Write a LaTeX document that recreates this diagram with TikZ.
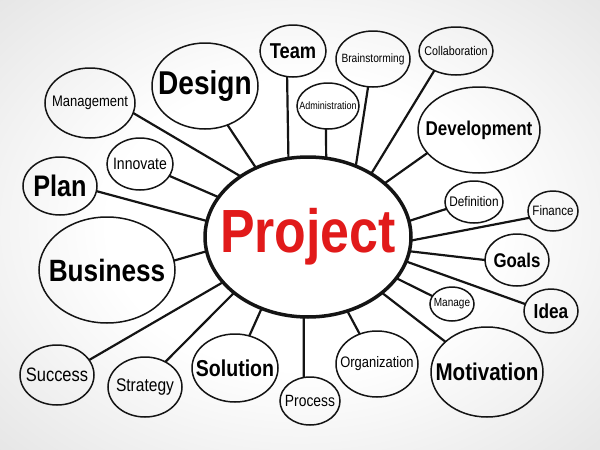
\documentclass[tikz,border=0pt]{standalone}
\usepackage{graphicx}
\usepackage{fontspec}
\setmainfont{Liberation Sans}
\usetikzlibrary{shapes.geometric}
\definecolor{pred}{HTML}{E11A1A}
\newcommand{\fs}[1]{\fontsize{#1}{#1}\selectfont}
% bold label and regular label, horizontally condensed
\newcommand{\lb}[2]{\makebox[0pt][c]{\scalebox{0.85}[1]{\fs{#1}\bfseries #2}}}
\newcommand{\lr}[2]{\makebox[0pt][c]{\scalebox{0.85}[1]{\fs{#1}#2}}}
\pgfdeclareradialshading{bgshade}{\pgfpoint{0bp}{0bp}}{color(0bp)=(white); color(16bp)=(white); color(36bp)=(black!10); color(50bp)=(black!15)}
\begin{document}
\begin{tikzpicture}[x=1pt,y=-1pt,
  bub/.style={ellipse,draw=black!92,line width=1.5pt,inner sep=0pt,outer sep=0pt},
  link/.style={line width=2.2pt,draw=black!92}]
\useasboundingbox (0,0) rectangle (600,450);
\shade[shading=bgshade] (0,0) rectangle (600,450);

\node[bub,line width=3.5pt,minimum width=206pt,minimum height=160pt] (c) at (308,237) {\color{pred}\lb{61}{Project}};

\node[bub,minimum width=106pt,minimum height=86pt] (design) at (205,86) {\lb{33}{Design}};
\node[bub,minimum width=66pt,minimum height=52pt] (team) at (293,51) {\lb{21.5}{Team}};
\node[bub,minimum width=90pt,minimum height=70pt] (mgmt) at (90,103) {\lr{15.3}{Management}};
\node[bub,minimum width=66pt,minimum height=52pt] (innov) at (140,164) {\lr{16.5}{Innovate}};
\node[bub,minimum width=74pt,minimum height=58pt] (plan) at (60,186) {\lb{29.7}{Plan}};
\node[bub,minimum width=136pt,minimum height=106pt] (bus) at (107,270) {\lb{30.8}{Business}};
\node[bub,minimum width=74pt,minimum height=60pt] (succ) at (57,375) {\lr{19.4}{Success}};
\node[bub,minimum width=74pt,minimum height=60pt] (strat) at (145,387) {\lr{18.3}{Strategy}};
\node[bub,minimum width=86pt,minimum height=68pt] (sol) at (235,368) {\lb{23}{Solution}};
\node[bub,minimum width=60pt,minimum height=48pt] (proc) at (310,401) {\lr{16.3}{Process}};
\node[bub,minimum width=82pt,minimum height=66pt] (org) at (377,364) {\lr{15.2}{Organization}};
\node[bub,minimum width=112pt,minimum height=90pt] (motiv) at (487,372) {\lb{24.2}{Motivation}};
\node[bub,minimum width=44pt,minimum height=34pt] (manage) at (452,304) {\lr{11.8}{Manage}};
\node[bub,minimum width=54pt,minimum height=44pt] (idea) at (551,311) {\lb{20.3}{Idea}};
\node[bub,minimum width=64pt,minimum height=52pt] (goals) at (517,260) {\lb{19.8}{Goals}};
\node[bub,minimum width=50pt,minimum height=40pt] (fin) at (553,211) {\lr{13.6}{Finance}};
\node[bub,minimum width=58pt,minimum height=42pt] (defn) at (474,202) {\lr{13.9}{Definition}};
\node[bub,minimum width=122pt,minimum height=86pt] (dev) at (479,130) {\lb{20}{Development}};
\node[bub,minimum width=74pt,minimum height=48pt] (collab) at (456,51) {\lr{12.6}{Collaboration}};
\node[bub,minimum width=74pt,minimum height=56pt] (brain) at (373,59) {\lr{12}{Brainstorming}};
\node[bub,minimum width=62pt,minimum height=46pt] (admin) at (328,106) {\lr{10.6}{Administration}};

\draw[link] (design.300.5) -- (c.127.4);
\draw[link] (mgmt.347) -- (c.138.9);
\draw[link] (innov.338) -- (c.156.7);
\draw[link] (plan.352.5) -- (c.171.7);
\draw[link] (bus.8.4) -- (c.188.3);
\draw[link] (succ.25) -- (c.208.6);
\draw[link] (strat.51) -- (c.217.6);
\draw[link] (sol.66) -- (c.237);
\draw[link] (proc.105) -- (c.267);
\draw[link] (org.120) -- (c.298.6);
\draw[link] (motiv.144) -- (c.323.7);
\draw[link] (manage.158) -- (c.335.4);
\draw[link] (idea.165) -- (c.346.2);
\draw[link] (goals.180) -- (c.352.4);
\draw[link] (fin.196) -- (c.358.4);
\draw[link] (defn.194) -- (c.9.2);
\draw[link] (dev.204) -- (c.35.7);
\draw[link] (collab.222) -- (c.45.4);
\draw[link] (brain.260) -- (c.56.8);
\draw[link] (admin.265) -- (c.77.6);
\draw[link] (team.257) -- (c.104.4);
\end{tikzpicture}
\end{document}
